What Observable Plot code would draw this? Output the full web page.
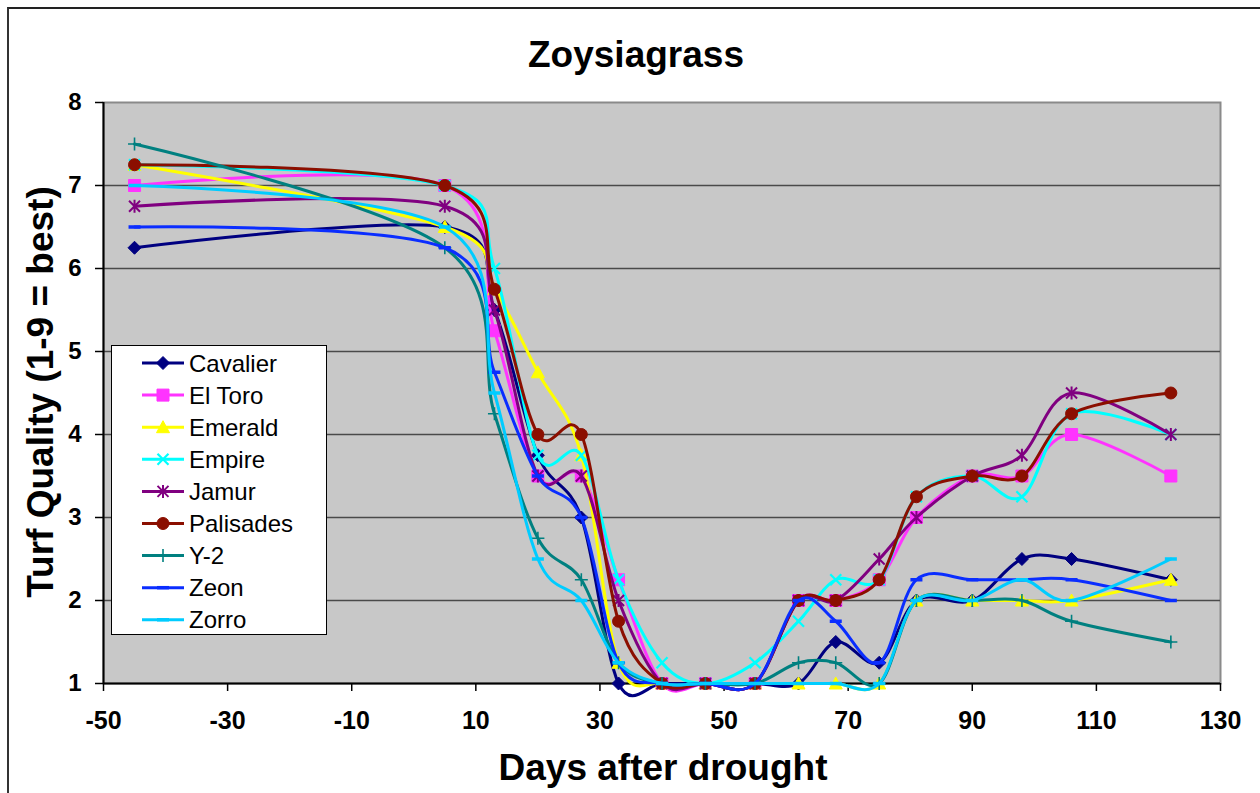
<!DOCTYPE html>
<html>
<head>
<meta charset="utf-8">
<script src="https://cdn.jsdelivr.net/npm/d3@7"></script>
<script src="https://cdn.jsdelivr.net/npm/@observablehq/plot@0.6"></script>
<style>
  html, body { margin: 0; padding: 0; background: #fff; }
  #wrap { position: relative; width: 1260px; height: 793px; overflow: hidden; font-family: "Liberation Sans", Arial, sans-serif; }
  #wrap svg.plot { position: absolute; left: 0; top: 0; }
  #border { position: absolute; left: 7px; top: 7px; width: 1300px; height: 900px; border-left: 2px solid #333; border-top: 2px solid #222; }
  #legend { position: absolute; left: 111px; top: 345px; width: 214px; height: 288px; background: #fff; border: 1.5px solid #000; }
  #legend svg { position: absolute; left: 0; top: 0; }
</style>
</head>
<body>
<div id="wrap">
  <div id="border"></div>
</div>
<script>
// ---- data ----
const days = [-45, 5, 13, 20, 27, 33, 40, 47, 55, 62, 68, 75, 81, 90, 98, 106, 122];
const cavalier  = [6.25, 6.5, 5.5, 3.75, 3.0, 1.0, 1, 1, 1, 1, 1.5, 1.25, 2, 2, 2.5, 2.5, 2.25];
const elToro    = [7, 7, 5.25, 3.5, 3.5, 2.25, 1, 1, 1, 2, 2, 2.25, 3, 3.5, 3.5, 4, 3.5];
const emerald   = [7.25, 6.5, 5.75, 4.75, 3.75, 1.25, 1, 1, 1, 1, 1, 1, 2, 2, 2, 2, 2.25];
const empire    = [7.25, 7, 6, 3.75, 3.75, 2.25, 1.25, 1, 1.25, 1.75, 2.25, 2.25, 3.25, 3.5, 3.25, 4.25, 4];
const jamur     = [6.75, 6.75, 5.5, 3.5, 3.5, 2, 1, 1, 1, 2, 2, 2.5, 3, 3.5, 3.75, 4.5, 4];
const palisades = [7.25, 7, 5.75, 4, 4, 1.75, 1, 1, 1, 2, 2, 2.25, 3.25, 3.5, 3.5, 4.25, 4.5];
const y2        = [7.5, 6.25, 4.25, 2.75, 2.25, 1.25, 1, 1, 1, 1.25, 1.25, 1, 2, 2, 2, 1.75, 1.5];
const zeon      = [6.5, 6.25, 4.75, 3.5, 3.0, 1.25, 1, 1, 1, 2, 1.75, 1.25, 2.25, 2.25, 2.25, 2.25, 2];
const zorro     = [7, 6.5, 4.5, 2.5, 2.0, 1.25, 1, 1, 1, 1, 1, 1, 2, 2, 2.25, 2, 2.5];
const seriesNames = ["Cavalier", "El Toro", "Emerald", "Empire", "Jamur", "Palisades", "Y-2", "Zeon", "Zorro"];
const xTicks = [-50, -30, -10, 10, 30, 50, 70, 90, 110, 130];
const yTicks = [1, 2, 3, 4, 5, 6, 7, 8];

// ---- styles ----
const symDiamond = {draw(c){ c.moveTo(0,-6.5); c.lineTo(6.5,0); c.lineTo(0,6.5); c.lineTo(-6.5,0); c.closePath(); }};
const symSquare = {draw(c){ c.rect(-6,-6,12,12); }};
const symTriangle = {draw(c){ c.moveTo(0,-6.5); c.lineTo(6.5,5.5); c.lineTo(-6.5,5.5); c.closePath(); }};
const symTimes = {draw(c){ c.moveTo(-5.5,-5.5); c.lineTo(5.5,5.5); c.moveTo(5.5,-5.5); c.lineTo(-5.5,5.5); }};
const symAsterisk = {draw(c){ c.moveTo(-5.5,-5.5); c.lineTo(5.5,5.5); c.moveTo(5.5,-5.5); c.lineTo(-5.5,5.5); c.moveTo(0,-6.5); c.lineTo(0,6.5); }};
const symCircle = {draw(c){ c.moveTo(6,0); c.arc(0,0,6,0,2*Math.PI); }};
const symPlus = {draw(c){ c.moveTo(0,-6.5); c.lineTo(0,6.5); c.moveTo(-6.5,0); c.lineTo(6.5,0); }};
const symDash = {draw(c){ c.moveTo(-6,0); c.lineTo(6,0); }};

const seriesValues = [cavalier, elToro, emerald, empire, jamur, palisades, y2, zeon, zorro];
const seriesStyle = [
  {color: "#000080", symbol: symDiamond, filled: true},
  {color: "#FF33FF", symbol: symSquare, filled: true},
  {color: "#FFFF00", symbol: symTriangle, filled: true},
  {color: "#00FFFF", symbol: symTimes, filled: false, sw: 2.2},
  {color: "#800080", symbol: symAsterisk, filled: false, sw: 2},
  {color: "#8B0F00", symbol: symCircle, filled: true},
  {color: "#008080", symbol: symPlus, filled: false, sw: 1.6},
  {color: "#0A2DFF", symbol: symDash, filled: false, sw: 3.5},
  {color: "#00CCFF", symbol: symDash, filled: false, sw: 3.5}
];

const seriesMarks = [];
seriesValues.forEach((vals, k) => {
  const st = seriesStyle[k];
  const rows = days.map((d, i) => ({day: d, value: vals[i], name: seriesNames[k]}));
  seriesMarks.push(Plot.line(rows, {x: "day", y: "value", stroke: st.color, strokeWidth: 3, curve: "cardinal", tension: 0}));
  seriesMarks.push(Plot.dot(rows, {x: "day", y: "value", symbol: st.symbol, r: 6,
    fill: st.filled ? st.color : "none", stroke: st.color, strokeWidth: st.filled ? 1 : st.sw}));
});

const fmt = d => String(d);
const chart = Plot.plot({
  width: 1260, height: 793,
  marginLeft: 103, marginRight: 40, marginTop: 102, marginBottom: 110,
  x: {domain: [-50, 130]},
  y: {domain: [1, 8]},
  style: {background: "transparent", fontFamily: "'Liberation Sans', Arial, sans-serif", color: "#000", overflow: "visible"},
  marks: [
    Plot.frame({fill: "#C8C8C8", stroke: "#8a8a8a", strokeWidth: 2}),
    Plot.gridY(yTicks.slice(1, -1), {stroke: "#4a4a4a", strokeOpacity: 1, strokeWidth: 1.5}),
    Plot.axisX(xTicks, {tickSize: 8, tickPadding: 20, fontSize: 25, fontWeight: "bold", label: null, tickFormat: fmt, stroke: "#000", strokeWidth: 1.5}),
    Plot.axisY(yTicks, {tickSize: 8, tickPadding: 14, fontSize: 24, fontWeight: "bold", label: null, tickFormat: fmt, stroke: "#000", strokeWidth: 1.5}),
    Plot.ruleX([-50], {stroke: "#000", strokeWidth: 2}),
    Plot.ruleY([1], {stroke: "#000", strokeWidth: 2}),
    ...seriesMarks
  ]
});
chart.classList.add("plot");
document.getElementById("wrap").appendChild(chart);

const svg = d3.select(chart);
svg.selectAll('g[aria-label="x-axis tick label"] text, g[aria-label="y-axis tick label"] text').attr("font-weight", "bold");
const bold = {"font-weight": "bold", "font-size": "37px", "fill": "#000", "font-family": "'Liberation Sans', Arial, sans-serif"};
function addText(x, y, str, rot) {
  const t = svg.append("text").attr("text-anchor", "middle").text(str);
  if (rot) t.attr("transform", `translate(${x},${y}) rotate(-90)`); else t.attr("x", x).attr("y", y);
  for (const k in bold) t.attr(k, bold[k]);
}
addText(636, 67, "Zoysiagrass");
addText(663, 780, "Days after drought");
addText(53, 392, "Turf Quality (1-9 = best)", true);

// ---- legend ----
const leg = d3.select("#wrap").append("div").attr("id", "legend");
const lsvg = leg.append("svg").attr("width", 214).attr("height", 288);
seriesNames.forEach((name, k) => {
  const st = seriesStyle[k];
  const cy = 17 + k * 32.1;
  const g = lsvg.append("g");
  g.append("line").attr("x1", 30).attr("x2", 72).attr("y1", cy).attr("y2", cy).attr("stroke", st.color).attr("stroke-width", 3);
  const p = d3.path(); st.symbol.draw(p);
  g.append("path").attr("d", p.toString()).attr("transform", `translate(51,${cy})`)
    .attr("fill", st.filled ? st.color : "none").attr("stroke", st.color).attr("stroke-width", st.filled ? 1 : st.sw);
  g.append("text").attr("x", 77).attr("y", cy).attr("dy", "0.36em").attr("font-size", "24px")
    .attr("font-family", "'Liberation Sans', Arial, sans-serif").attr("fill", "#000").text(name);
});
</script>
</body>
</html>
